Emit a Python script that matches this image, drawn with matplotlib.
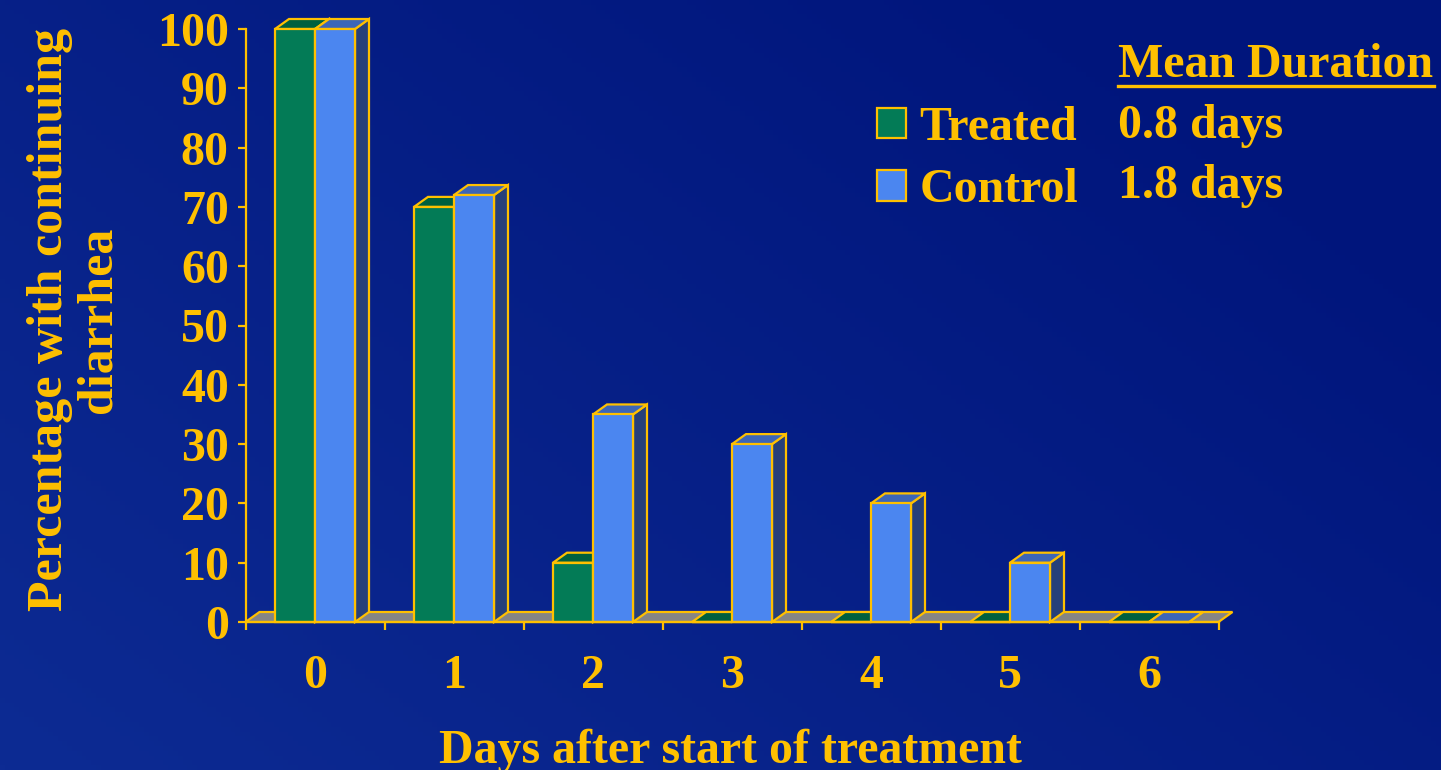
import numpy as np
import matplotlib
matplotlib.use('Agg')
from matplotlib import pyplot as plt
from matplotlib.patches import Polygon, Patch
from matplotlib.lines import Line2D

# data
days = [0, 1, 2, 3, 4, 5, 6]
treated = [100, 70, 10, 0, 0, 0, 0]
control = [100, 72, 35, 30, 20, 10, 0]
series_names = ['Treated', 'Control']
mean_duration = ['0.8 days', '1.8 days']

gold = '#FFC000'
green_front, green_top, green_side = '#037B56', '#00603F', '#004A30'
blue_front, blue_top, blue_side = '#4B86F0', '#3C66B8', '#27407A'
floor_col = '#858585'
lw = 1.6

plt.rcParams['font.family'] = 'Liberation Serif'
plt.rcParams['font.weight'] = 'bold'
plt.rcParams['axes.labelweight'] = 'bold'
plt.rcParams['font.size'] = 34.5

W, H = 1441, 770
fig = plt.figure(figsize=(W / 100, H / 100), dpi=100)

# background gradient
bg = fig.add_axes([0, 0, 1, 1], zorder=-5)
xx, yy = np.meshgrid(np.linspace(0, 1, 300), np.linspace(0, 1, 160))
t = np.clip((xx * 0.8 + yy * 0.6), 0, 1.2) / 1.2
c0 = np.array([0x0D, 0x2B, 0x93]) / 255
c1 = np.array([0x00, 0x15, 0x7C]) / 255
img = c0[None, None, :] * (1 - t[..., None]) + c1[None, None, :] * t[..., None]
bg.imshow(img, origin='lower', extent=[0, 1, 0, 1], aspect='auto')
bg.axis('off')

ax = fig.add_axes([245.5 / W, 148 / H, 973 / W, 593 / H])
ax.patch.set_visible(False)
ax.set_xlim(-0.5, 6.5)
ax.set_ylim(0, 100)

w = 40 / 139          # bar width in category units
dx = 14 / 139         # depth offset
dy = 10 / 5.93

# floor
ax.add_patch(Polygon([(-0.5, 0), (6.5, 0), (6.5 + dx, dy), (-0.5 + dx, dy)],
                     closed=True, fc=floor_col, ec=gold, lw=lw, zorder=2,
                     clip_on=False, joinstyle='miter'))


def faces(x0, h, top, side, z):
    ax.add_patch(Polygon([(x0 + w, 0), (x0 + w + dx, dy), (x0 + w + dx, h + dy), (x0 + w, h)],
                         fc=side, ec=gold, lw=lw, zorder=z, clip_on=False, joinstyle='miter'))
    ax.add_patch(Polygon([(x0, h), (x0 + dx, h + dy), (x0 + w + dx, h + dy), (x0 + w, h)],
                         fc=top, ec=gold, lw=lw, zorder=z, clip_on=False, joinstyle='miter'))


for d, ht, hc in zip(days, treated, control):
    faces(d - w, ht, green_top, green_side, 3)
    faces(d, hc, blue_top, blue_side, 5)

ax.bar(np.array(days) - w, treated, width=w, align='edge', color=green_front,
       edgecolor=gold, linewidth=lw, zorder=4, clip_on=False)
ax.bar(np.array(days), control, width=w, align='edge', color=blue_front,
       edgecolor=gold, linewidth=lw, zorder=6, clip_on=False)

# axes styling
for s in ['top', 'right']:
    ax.spines[s].set_visible(False)
for s in ['left', 'bottom']:
    ax.spines[s].set_color(gold)
    ax.spines[s].set_linewidth(lw)
    ax.spines[s].set_zorder(7)

ax.set_yticks(np.arange(0, 101, 10))
ax.set_xticks(days)
ax.set_xticks(np.arange(-0.5, 7, 1), minor=True)
ax.tick_params(axis='y', length=6, width=lw, color=gold, labelcolor=gold, pad=6)
ax.tick_params(axis='x', which='major', length=0, labelcolor=gold, pad=23)
ax.tick_params(axis='x', which='minor', length=6, width=lw, color=gold)

ax.set_xlabel('Days after start of treatment', color=gold)
ax.xaxis.set_label_coords(0.498, -0.179)
ax.set_ylabel('Percentage with continuing\ndiarrhea', color=gold, linespacing=1.08,
              fontsize=36)
ax.yaxis.set_label_coords(-0.127, 0.51)

# legend + mean duration column
handles = [Patch(fc=green_front, ec=gold, lw=lw), Patch(fc=blue_front, ec=gold, lw=lw)]
leg = ax.legend(handles, series_names, loc='upper left',
                bbox_to_anchor=(877 / W, 1 - 106 / H), bbox_transform=fig.transFigure,
                frameon=False, handlelength=0.6, handleheight=0.6, handletextpad=0.28,
                labelspacing=0.38, borderpad=0, borderaxespad=0)
for txt in leg.get_texts():
    txt.set_color(gold)

fig.text(1118 / W, 1 - 77 / H, 'Mean Duration', color=gold, va='baseline')
fig.add_artist(Line2D([1118 / W, 1434 / W], [1 - 86 / H] * 2, color=gold, lw=2.4,
                      transform=fig.transFigure))
for i, md in enumerate(mean_duration):
    fig.text(1118 / W, 1 - (138 + 60 * i) / H, md, color=gold, va='baseline')

fig.savefig('out.png', dpi=100)
